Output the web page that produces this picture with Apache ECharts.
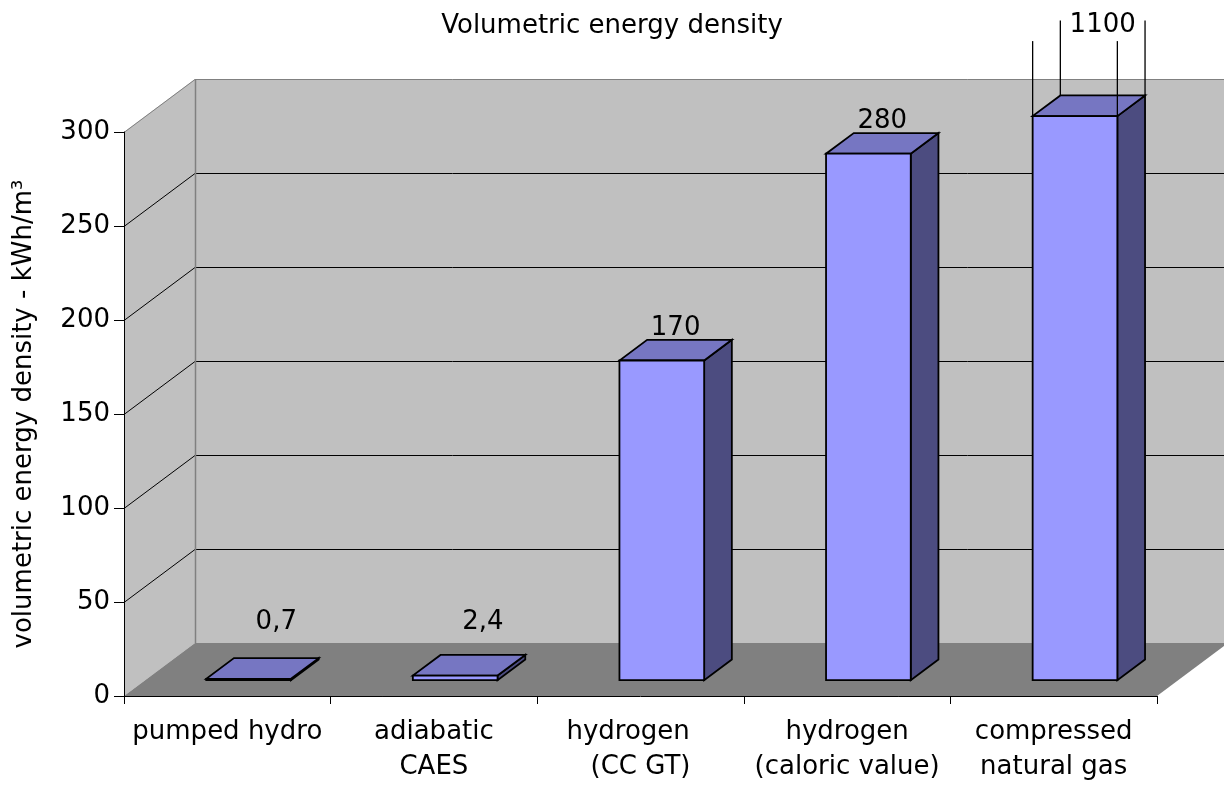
<!DOCTYPE html>
<html>
<head>
<meta charset="utf-8">
<title>Volumetric energy density</title>
<script src="https://cdn.jsdelivr.net/npm/echarts@6/dist/echarts.min.js"></script>
<style>
  html, body { margin: 0; padding: 0; background: #ffffff; }
  #chart { width: 1224px; height: 785px; }
</style>
</head>
<body>
<div id="chart"></div>
<script>
// Storage technologies and their volumetric energy density (kWh/m³)
const categories = [
  'pumped hydro',
  'adiabatic\nCAES',
  'hydrogen   \n(CC GT)',
  'hydrogen\n(caloric value)',
  'compressed\nnatural gas'
];
const values = [0.7, 2.4, 170, 280, 1100];
const yTicks = [0, 50, 100, 150, 200, 250, 300];
const yMax = 300;

// Pseudo-3D projection: offset of the back wall from the front plane
const DX = 71, DY = -53;
// Bar placement inside the depth and inside each category band
const BAR_FRONT = 0.30, BAR_BACK = 0.69, BAR_WIDTH = 0.41;
const FONT = 'DejaVu Sans';

const fmt = v => String(v).replace('.', ',');

function renderWalls(params, api) {
  const cs = params.coordSys;
  const x0 = cs.x, x1 = cs.x + cs.width;
  const yTop = cs.y, yBot = cs.y + cs.height;
  const children = [];
  // back wall
  children.push({ type: 'polygon', shape: { points: [
    [x0 + DX, yTop + DY], [x1 + DX, yTop + DY], [x1 + DX, yBot + DY], [x0 + DX, yBot + DY]
  ] }, style: { fill: '#C0C0C0' } });
  // side wall
  children.push({ type: 'polygon', shape: { points: [
    [x0, yTop], [x0 + DX, yTop + DY], [x0 + DX, yBot + DY], [x0, yBot]
  ] }, style: { fill: '#C0C0C0' } });
  // floor
  children.push({ type: 'polygon', shape: { points: [
    [x0, yBot], [x1, yBot], [x1 + DX, yBot + DY], [x0 + DX, yBot + DY]
  ] }, style: { fill: '#808080' } });
  // gridlines on side and back walls
  yTicks.forEach(t => {
    if (t === 0) return;
    const y = Math.round(api.coord([0, t])[1]) + 0.5;
    const col = t === yMax ? '#808080' : '#000000';
    children.push({ type: 'polyline', shape: { points: [
      [x0, y], [x0 + DX, y + DY], [x1 + DX + 10, y + DY]
    ] }, style: { stroke: col, lineWidth: 1, fill: null } });
  });
  // corner edge between side and back wall
  children.push({ type: 'line', shape: {
    x1: x0 + DX + 0.5, y1: yTop + DY, x2: x0 + DX + 0.5, y2: yBot + DY
  }, style: { stroke: '#808080', lineWidth: 1.5 } });
  return { type: 'group', children };
}

function renderBar(params, api) {
  const i = api.value(0);
  const v = api.value(1);
  const clipped = v > yMax;
  const shown = Math.min(v, yMax);
  const base = api.coord([i, 0]);
  const top = api.coord([i, shown]);
  const band = api.size([1, 0])[0];
  const w = band * BAR_WIDTH;
  const fx = BAR_FRONT * DX, fy = BAR_FRONT * DY;
  const bx = (BAR_BACK - BAR_FRONT) * DX, by = (BAR_BACK - BAR_FRONT) * DY;
  const xl = base[0] - w / 2 + fx, xr = xl + w;
  const yb = base[1] + fy, yt = top[1] + fy;
  const edge = { stroke: '#000000', lineWidth: 1.8, lineJoin: 'miter' };
  const children = [
    { type: 'polygon', shape: { points: [[xr, yt], [xr + bx, yt + by], [xr + bx, yb + by], [xr, yb]] },
      style: Object.assign({ fill: '#4C4C80' }, edge) },
    { type: 'polygon', shape: { points: [[xl, yt], [xr, yt], [xr + bx, yt + by], [xl + bx, yt + by]] },
      style: Object.assign({ fill: '#7676C2' }, edge) },
    { type: 'rect', shape: { x: xl, y: yt, width: w, height: yb - yt },
      style: Object.assign({ fill: '#9999FF' }, edge) }
  ];
  let lx, ly;
  const floorLabelY = base[1] + DY - 21;
  if (clipped) {
    // bar runs past the axis maximum: continue its vertical edges upward
    const ext = 75;
    [[xl, yt], [xr, yt], [xl + bx, yt + by], [xr + bx, yt + by]].forEach(p => {
      children.push({ type: 'line', shape: { x1: p[0], y1: p[1], x2: p[0], y2: p[1] - ext },
        style: { stroke: '#000000', lineWidth: 1.3 } });
    });
    lx = xl + w / 2 + bx;
    ly = yt + by - 70;
  } else if (yt + by / 2 - 22 > floorLabelY) {
    // very short bar: label rests just above the back of the floor
    lx = xl + w / 2 + bx;
    ly = floorLabelY;
  } else {
    lx = xl + w / 2 + bx / 2;
    ly = yt + by / 2 - 22;
  }
  children.push({ type: 'text', x: lx, y: ly, style: {
    text: fmt(v), fontFamily: FONT, fontSize: 26, fill: '#000000',
    align: 'center', verticalAlign: 'middle'
  } });
  return { type: 'group', children };
}

const chart = echarts.init(document.getElementById('chart'));
chart.setOption({
  backgroundColor: '#ffffff',
  animation: false,
  title: {
    text: 'Volumetric energy density',
    left: 'center',
    top: 8,
    textStyle: { fontFamily: FONT, fontSize: 26, fontWeight: 'normal', color: '#000000' }
  },
  grid: { left: 124, right: 67, top: 132, bottom: 86, containLabel: false },
  xAxis: {
    type: 'category',
    data: categories,
    z: 5,
    axisLine: { lineStyle: { color: '#000000', width: 1 } },
    axisTick: { show: true, length: 8, interval: 0, lineStyle: { color: '#000000' } },
    axisLabel: { interval: 0, margin: 19, fontFamily: FONT, fontSize: 26, lineHeight: 35, color: '#000000' },
    splitLine: { show: false }
  },
  yAxis: {
    type: 'value',
    min: 0, max: yMax, interval: 50,
    z: 5,
    name: 'volumetric energy density - kWh/m³',
    nameLocation: 'middle',
    nameGap: 87,
    nameTextStyle: { fontFamily: FONT, fontSize: 26, color: '#000000' },
    axisLine: { show: true, lineStyle: { color: '#000000', width: 1 } },
    axisTick: { show: true, length: 10, lineStyle: { color: '#000000' } },
    axisLabel: { margin: 14, fontFamily: FONT, fontSize: 26, color: '#000000' },
    splitLine: { show: false }
  },
  series: [
    {
      type: 'custom',
      z: 1,
      silent: true,
      renderItem: renderWalls,
      data: [[0, 0]],
      encode: { x: 0, y: 1 },
      clip: false
    },
    {
      type: 'custom',
      z: 2,
      renderItem: renderBar,
      data: values.map((v, i) => [i, v]),
      encode: { x: 0, y: 1 },
      clip: false
    }
  ]
});
</script>
</body>
</html>
